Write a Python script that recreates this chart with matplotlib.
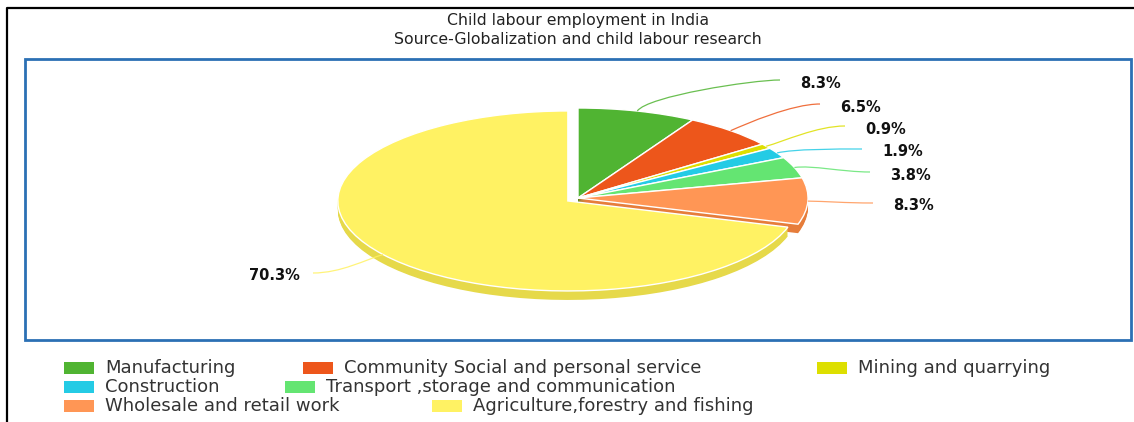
import numpy as np
import matplotlib
matplotlib.use("Agg")
import matplotlib.pyplot as plt
from matplotlib.patches import Rectangle, PathPatch
from matplotlib.path import Path
from matplotlib.colors import to_rgb

# ---------------- data ----------------
categories = ["Manufacturing", "Community Social and personal service", "Mining and quarrying",
              "Construction", "Transport ,storage and communication", "Wholesale and retail work",
              "Agriculture,forestry and fishing"]
values = [8.3, 6.5, 0.9, 1.9, 3.8, 8.3, 70.3]
labels = ["8.3%", "6.5%", "0.9%", "1.9%", "3.8%", "8.3%", "70.3%"]
colors = ["#50B432", "#ED561B", "#DDDF00", "#24CBE5", "#64E572", "#FF9655", "#FFF263"]
title_lines = ["Child labour employment in India", "Source-Globalization and child labour research"]

# ---------------- layout ----------------
W, H = 1134, 422
cx, cy, rx, ry = 578, 198, 230, 90
depth_px = 9
explode = [0, 0, 0, 0, 0, 0, 0.055]
# data label positions (text anchor, px) and alignment
label_pos = [(800, 83), (840, 107), (865, 129), (882, 152), (890, 175), (893, 206), (300, 275)]
label_ha = ["left"] * 6 + ["right"]
# legend layout (swatch left x, row centre y)
legend_pos = [(64, 368), (303, 368), (817, 368),
              (64, 387), (285, 387),
              (64, 406), (432, 406)]


def darker(c, amt=0.1):
    r, g, b = to_rgb(c)
    return tuple(max(0.0, v - amt) for v in (r, g, b))


fig = plt.figure(figsize=(W / 100, H / 100), dpi=100)
fig.patch.set_facecolor("white")

# pie axes: unit circle mapped to an ellipse
pa = fig.add_axes([(cx - rx) / W, (H - (cy + ry)) / H, 2 * rx / W, 2 * ry / H])
dark = [darker(c) for c in colors]
for d in np.arange(depth_px, 0, -1):
    ws, _ = pa.pie(values, colors=dark, explode=explode, startangle=90, counterclock=False,
                   center=(0, -d / ry), radius=1, wedgeprops=dict(linewidth=0))
    for w in ws:
        w.set_clip_on(False)
wedges, _ = pa.pie(values, colors=colors, explode=explode, startangle=90, counterclock=False,
                   center=(0, 0), radius=1, wedgeprops=dict(linewidth=1.0, edgecolor="white"))
for w in wedges:
    w.set_clip_on(False)
pa.set_xlim(-1, 1)
pa.set_ylim(-1, 1)
pa.set_aspect("auto")
pa.axis("off")

# overlay axes in pixel coordinates
ov = fig.add_axes([0, 0, 1, 1])
ov.set_xlim(0, W)
ov.set_ylim(H, 0)
ov.axis("off")

# outer black frame (top and left) and blue plot border
ov.plot([7, 7, W], [H, 8, 8], color="black", lw=1.6, solid_capstyle="butt")
ov.add_patch(Rectangle((25, 59), 1131 - 25, 340 - 59, fill=False, edgecolor="#2b70b4", lw=2.0))

# titles
ov.text(578, 21, title_lines[0], ha="center", va="center", fontsize=11.3,
        family="DejaVu Sans", color="#222222")
ov.text(578, 40, title_lines[1], ha="center", va="center", fontsize=11.3,
        family="DejaVu Sans", color="#222222")

to_px = lambda p: ov.transData.inverted().transform(pa.transData.transform(p))

# data labels with soft connectors
for w, lab, (tx, ty), ha, col in zip(wedges, labels, label_pos, label_ha, colors):
    mid = np.deg2rad((w.theta1 + w.theta2) / 2)
    c0 = np.array(w.center)
    anchor = to_px(c0 + w.r * np.array([np.cos(mid), np.sin(mid)]))
    cpx = to_px(c0)
    v = anchor - cpx
    v = v / np.hypot(*v)
    p1 = anchor + 18 * v
    if ha == "left":
        end = np.array([tx - 20, ty - 3])
        p2 = end - np.array([28, 0])
    else:
        end = np.array([tx + 13, ty - 2])
        p2 = end + np.array([28, 0])
    path = Path([anchor, p1, p2, end], [Path.MOVETO, Path.CURVE4, Path.CURVE4, Path.CURVE4])
    ov.add_patch(PathPatch(path, fill=False, edgecolor=col, lw=0.9, alpha=0.85))
    ov.text(tx, ty, lab, ha=ha, va="center", fontsize=10.5, fontweight="bold",
            family="DejaVu Sans", color="#111111")

# legend
for (lx, ly), name, col in zip(legend_pos, categories, colors):
    ov.add_patch(Rectangle((lx, ly - 6), 30, 12, facecolor=col, edgecolor="none"))
    ov.text(lx + 41, ly, name, ha="left", va="center", fontsize=13,
            family="DejaVu Sans", color="#333333")

fig.savefig("out.png", dpi=100, facecolor="white")
